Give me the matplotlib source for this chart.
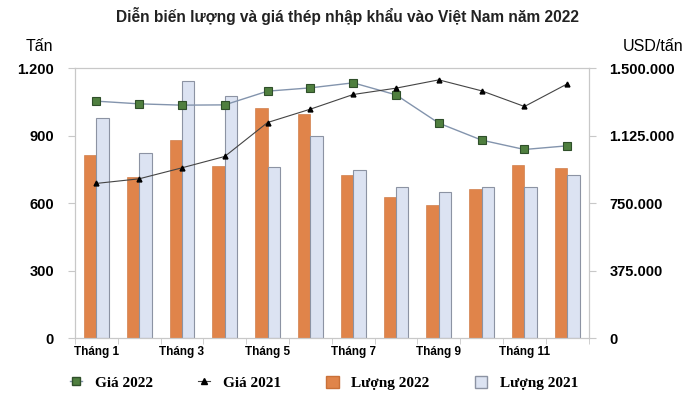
import numpy as np
import matplotlib
matplotlib.use("Agg")
import matplotlib.pyplot as plt
from matplotlib.lines import Line2D
from matplotlib.patches import Patch

# data
months = ["Tháng %d" % m for m in range(1, 13)]
luong_2022 = [813, 714, 880, 767, 1022, 994, 726, 628, 592, 664, 769, 756]
luong_2021 = [978, 821, 1145, 1078, 760, 898, 745, 672, 649, 672, 671, 724]
gia_2022 = [1316700, 1301700, 1294400, 1296000, 1372200, 1390600,
            1418500, 1351700, 1194400, 1100000, 1048000, 1068500]
gia_2021 = [859400, 885000, 946100, 1009300, 1198000, 1272200,
            1353700, 1388900, 1435000, 1374000, 1287000, 1412800]
left_ticks = [0, 300, 600, 900, 1200]
left_labels = ["0", "300", "600", "900", "1.200"]
right_ticks = [0, 375000, 750000, 1125000, 1500000]
right_labels = ["0", "375.000", "750.000", "1.125.000", "1.500.000"]

orange = "#e0844a"
lightblue = "#dce3f2"
green = "#4f7f3f"
frame_col = "#c8c8c8"
sans = "Liberation Sans"

fig = plt.figure(figsize=(7, 4.01), dpi=100)
ax = fig.add_axes([0.107, 0.157, 0.734, 0.673])
ax2 = ax.twinx()

x = np.arange(len(months))
w = 0.29
ax.bar(x - w / 2, luong_2022, w, color=orange, edgecolor="#c97038", linewidth=0.4, zorder=2)
ax.bar(x + w / 2, luong_2021, w, color=lightblue, edgecolor="#8c93a3", linewidth=0.8, zorder=2)

ax2.plot(x, gia_2022, color="#8394ad", lw=1.0, marker="s", ms=5.5,
         mfc=green, mec="#2f4f2a", mew=0.8, zorder=3)
ax2.plot(x, gia_2021, color="#444444", lw=0.8, marker="^", ms=3.5,
         mfc="black", mec="black", zorder=3)

ax.set_xlim(-0.5, 11.5)
ax.set_ylim(0, 1200)
ax2.set_ylim(0, 1500000)

ax.set_yticks(left_ticks)
ax.set_yticklabels(left_labels, fontsize=10.5, fontweight="bold", family=sans)
ax2.set_yticks(right_ticks)
ax2.set_yticklabels(right_labels, fontsize=10.5, fontweight="bold", family=sans)

ax.set_xticks(x[::2])
ax.set_xticklabels(months[::2], fontsize=8.5, fontweight="bold", family=sans)
ax.set_xticks(np.arange(-0.5, 12, 1), minor=True)
ax.tick_params(axis="x", which="major", length=0, pad=6)
ax.tick_params(axis="x", which="minor", length=4, color=frame_col, direction="out")
ax.tick_params(axis="y", length=5, color=frame_col, pad=10)
ax2.tick_params(axis="y", length=5, color=frame_col, pad=10)
for lab in ax2.get_yticklabels():
    lab.set_horizontalalignment("left")

for a in (ax, ax2):
    for s in a.spines.values():
        s.set_color(frame_col)
        s.set_linewidth(0.8)

fig.text(0.497, 0.96, "Diễn biến lượng và giá thép nhập khẩu vào Việt Nam năm 2022",
         ha="center", va="center", fontsize=11.2, family=sans,
         fontweight="bold", color="#222222")
fig.text(0.037, 0.885, "Tấn", ha="left", va="center", fontsize=11.5, family=sans)
fig.text(0.89, 0.885, "USD/tấn", ha="left", va="center", fontsize=11.5, family=sans)

handles = [
    Line2D([], [], color="#8394ad", lw=1.0, marker="s", ms=6, mfc=green, mec="#2f4f2a"),
    Line2D([], [], color="#444444", lw=0.8, marker="^", ms=4.5, mfc="black", mec="black"),
    Patch(facecolor=orange, edgecolor="#c97038"),
    Patch(facecolor=lightblue, edgecolor="#8c93a3"),
]
labels = ["Giá 2022", "Giá 2021", "Lượng 2022", "Lượng 2021"]
fig.legend(handles, labels, loc="center", bbox_to_anchor=(0.463, 0.045), ncol=4,
           frameon=False, handlelength=0.8, handleheight=0.85, columnspacing=2.96,
           handletextpad=0.83, borderpad=0.2,
           prop={"family": "Liberation Serif", "weight": "bold", "size": 11})

fig.savefig("out.png", dpi=100)
